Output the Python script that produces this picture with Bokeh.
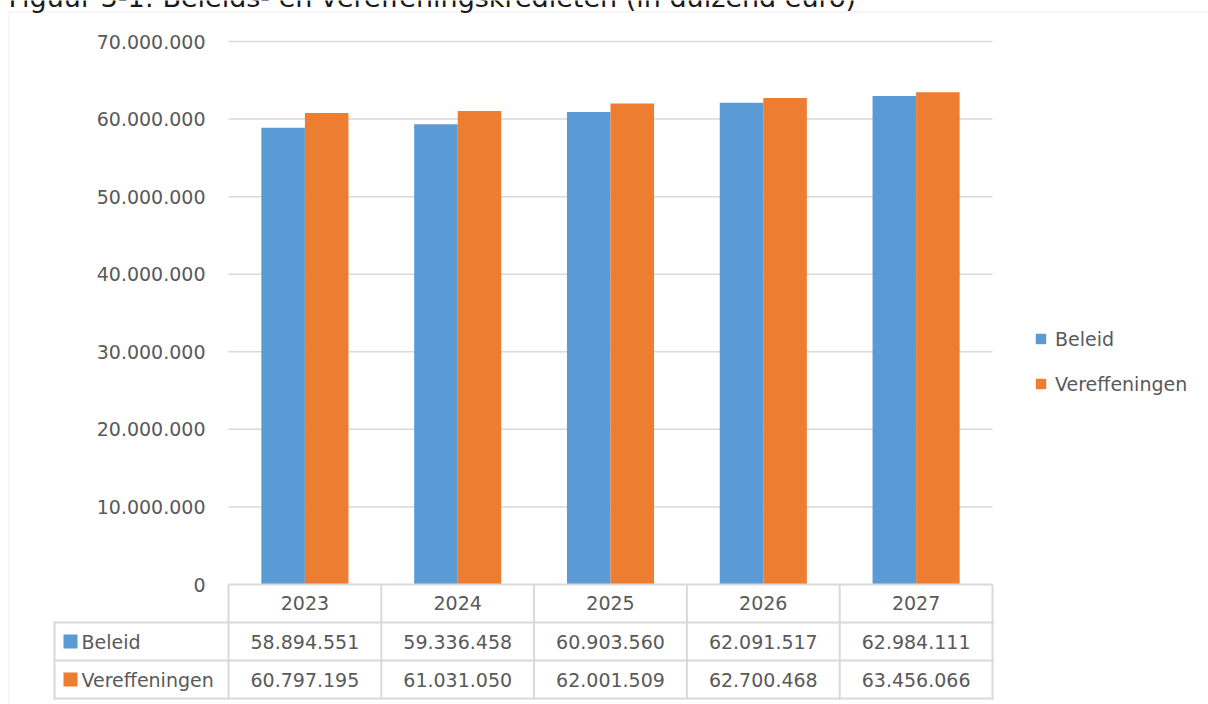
from bokeh.plotting import figure
from bokeh.models import (Range1d, ColumnDataSource, LabelSet, Label, Legend,
                          LegendItem, BoxAnnotation, FixedTicker, CustomJSTickFormatter)
from bokeh.core.properties import value
from bokeh.transform import dodge
from bokeh.embed import file_html
from bokeh.resources import INLINE

# ---------------- data ----------------
title_text = "Figuur 3-1: Beleids- en vereffeningskredieten (in duizend euro)"
years = ["2023", "2024", "2025", "2026", "2027"]
series_names = ["Beleid", "Vereffeningen"]
beleid = [58894551, 59336458, 60903560, 62091517, 62984111]
vereffeningen = [60797195, 61031050, 62001509, 62700468, 63456066]
y_ticks = [0, 10000000, 20000000, 30000000, 40000000, 50000000, 60000000, 70000000]
colors = ["#5B9BD5", "#ED7D31"]

# ---------------- layout constants (canvas pixels) ----------------
W, H = 1208, 704
PL, PR, PT, PB = 228, 992, 41, 584          # plot area of the bar chart
FONT = "DejaVu Sans"
FS = "19px"
TXT = "#595959"
GRID = "#d9d9d9"

n = len(years)
col_w = (PR - PL) / n                      # pixels per category
ymax = y_ticks[-1]
k = ymax / (PB - PT)                        # data units per pixel


def sx(cx):
    return cx


def sy(cy):
    return H - cy


def fmt(v):
    return f"{v:,}".replace(",", ".")


# the frame fills the whole canvas; category i spans [i, i+1]
p = figure(width=W, height=H,
           x_range=Range1d(-PL / col_w, (W - PL) / col_w),
           y_range=Range1d(-(H - PB) * k, ymax + PT * k),
           output_backend="svg", toolbar_location=None,
           min_border_left=0, min_border_right=0, min_border_top=0, min_border_bottom=0)
p.outline_line_color = None
p.background_fill_color = "white"
p.border_fill_color = "white"
p.xgrid.visible = False
p.ygrid.visible = False

cat_x = [i + 0.5 for i in range(n)]

# x axis (category labels in the table header)
p.xaxis.fixed_location = 0
p.xaxis.bounds = (0, n)
p.xaxis.ticker = FixedTicker(ticks=cat_x)
p.xaxis.formatter = CustomJSTickFormatter(args=dict(labels=years),
                                          code="return labels[Math.floor(tick)];")
p.xaxis.axis_line_color = GRID
p.xaxis.axis_line_width = 2
p.xaxis.major_tick_line_color = None
p.xaxis.minor_tick_line_color = None
p.xaxis.major_label_text_font = FONT
p.xaxis.major_label_text_font_size = FS
p.xaxis.major_label_text_color = TXT
p.xaxis.major_label_standoff = 5

# y axis
p.yaxis.fixed_location = 0
p.yaxis.bounds = (0, ymax)
p.yaxis.ticker = FixedTicker(ticks=y_ticks)
p.yaxis.formatter = CustomJSTickFormatter(
    code="return Math.round(tick).toString().replace(/\\B(?=(\\d{3})+(?!\\d))/g, '.');")
p.yaxis.axis_line_color = None
p.yaxis.major_tick_line_color = None
p.yaxis.minor_tick_line_color = None
p.yaxis.major_label_text_font = FONT
p.yaxis.major_label_text_font_size = FS
p.yaxis.major_label_text_color = TXT
p.yaxis.major_label_standoff = 17

# horizontal gridlines across the plot area only
gsrc = ColumnDataSource(dict(y=y_ticks[1:]))
p.segment(x0=0, x1=n, y0="y", y1="y", source=gsrc, line_color=GRID, line_width=1.5)

# bars
src = ColumnDataSource(dict(x=cat_x, beleid=beleid, vereffeningen=vereffeningen))
r1 = p.vbar(x=dodge("x", -0.1425), top="beleid", width=0.285,
            source=src, fill_color=colors[0], line_color=None)
r2 = p.vbar(x=dodge("x", 0.1425), top="vereffeningen", width=0.285,
            source=src, fill_color=colors[1], line_color=None)

legend = Legend(items=[LegendItem(label=series_names[0], renderers=[r1]),
                       LegendItem(label=series_names[1], renderers=[r2])],
                location=(sx(1034), sy(394.5)), padding=0, margin=0,
                border_line_color=None, background_fill_alpha=0,
                glyph_width=13, glyph_height=13, label_standoff=8, spacing=23,
                label_height=22, label_text_font=FONT, label_text_font_size=FS,
                label_text_color=TXT)
p.add_layout(legend, "center")


def box(x0, x1, y0, y1, **kw):
    return BoxAnnotation(left=sx(x0), right=sx(x1), top=sy(y0), bottom=sy(y1),
                         left_units="screen", right_units="screen", top_units="screen",
                         bottom_units="screen", **kw)


# ---------------- data table below the chart ----------------
for cy in [622, 660, 698]:
    p.add_layout(box(53, PR + 1, cy - 1, cy + 1, fill_color=GRID, fill_alpha=1, line_color=None))
p.add_layout(box(53, 55, 621, 699, fill_color=GRID, fill_alpha=1, line_color=None))
for j in range(n + 1):
    cx = PL + j * col_w
    p.add_layout(box(cx - 1, cx + 1, PB, 699, fill_color=GRID, fill_alpha=1, line_color=None))

row_y = [641, 679]
tbl = ColumnDataSource(dict(x=cat_x,
                            beleid_txt=[fmt(v) for v in beleid],
                            vereff_txt=[fmt(v) for v in vereffeningen]))
for field, cy in zip(["beleid_txt", "vereff_txt"], row_y):
    p.add_layout(LabelSet(x="x", y=sy(cy), y_units="screen", text=field, source=tbl,
                          text_align="center", text_baseline="middle",
                          text_font=value(FONT), text_font_size=value(FS),
                          text_color=TXT))

for name, col, cy in zip(series_names, colors, row_y):
    p.add_layout(box(63, 77, cy - 7, cy + 7, fill_color=col, fill_alpha=1, line_color=None))
    p.add_layout(Label(x=sx(81), y=sy(cy), x_units="screen", y_units="screen", text=name,
                       text_baseline="middle", text_align="left", text_font=FONT,
                       text_font_size=FS, text_color=TXT))

# outer chart border
p.add_layout(box(8.5, 1500, 11.5, 1000, fill_alpha=0, line_color=GRID, line_width=1.5))

# title (partly cut off at the top, as in the reference)
p.add_layout(Label(x=sx(8), y=sy(-3), x_units="screen", y_units="screen", text=title_text,
                   text_baseline="alphabetic", text_align="left", text_font=FONT,
                   text_font_size="27px", text_color="#1a1a1a"))

open("out.html", "w").write(file_html(p, INLINE))
